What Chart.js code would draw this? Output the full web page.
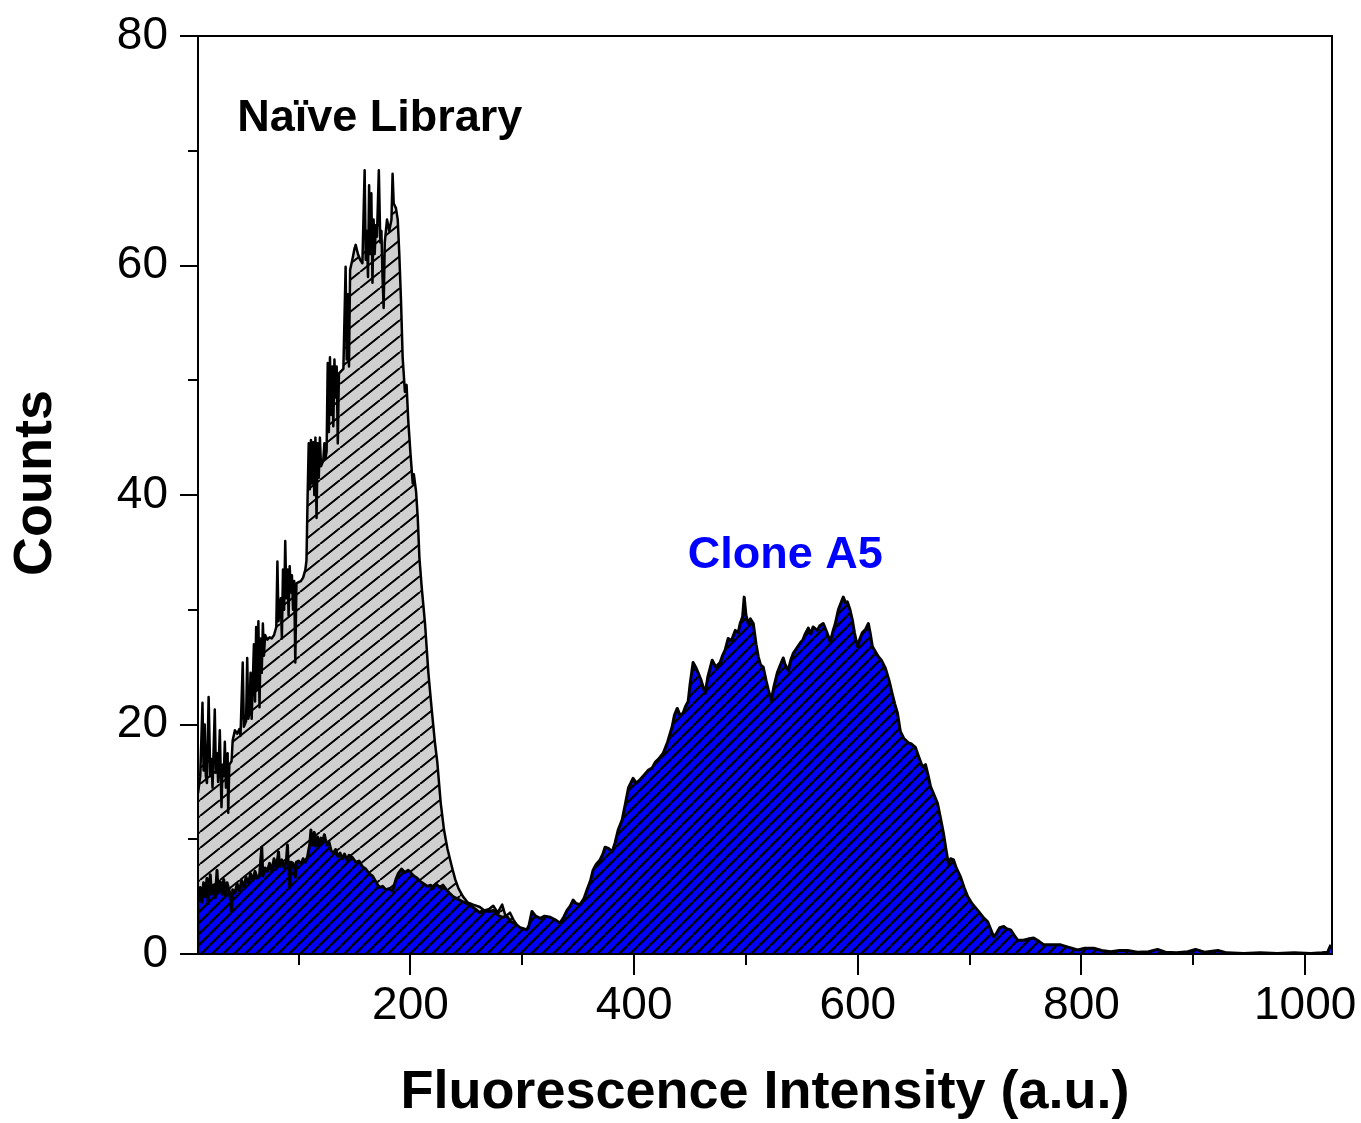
<!DOCTYPE html>
<html>
<head>
<meta charset="utf-8">
<title>Fluorescence histogram</title>
<script src="https://cdn.jsdelivr.net/npm/chart.js@4.4.1/dist/chart.umd.min.js"></script>
<style>
  html, body { margin: 0; padding: 0; background: #fff; }
  #hist { display: block; }
</style>
</head>
<body>
<canvas id="hist" width="1361" height="1123"></canvas>
<script>
// Naive library histogram (channel -> counts)
const naiveX = [
  10, 12, 14, 15, 16, 17, 18, 19.5, 21, 22,
  23, 25, 26, 27, 28, 29.5, 31, 32, 33, 34,
  35, 36.5, 37, 38, 40, 41, 43, 45, 47, 48,
  50, 51, 53, 54, 55, 56, 57, 58, 60, 61,
  62, 63, 64, 65, 66, 67, 68, 69, 70, 72,
  74, 76, 78, 80, 81, 82, 84, 85, 86, 87,
  88, 89, 90, 91, 92, 93, 94, 95, 96, 97,
  98, 100, 102, 104, 106, 107, 108, 109, 110, 111,
  112, 113, 114, 115, 116, 117, 118, 119, 120, 122,
  123, 124, 125, 126, 127, 128, 129, 130, 131, 132,
  133, 134, 135, 136, 138, 140, 142, 143, 144, 145,
  146, 148, 150, 151, 153, 155, 157, 159, 160, 161,
  162, 163, 164, 165, 166, 167, 168, 169, 170, 171.7,
  173, 174, 175, 176, 177, 179, 181, 183, 184, 185,
  187, 188.6, 190, 191.5, 193, 195, 196.5, 198, 200, 202,
  203, 205, 206.5, 208, 210, 213, 216, 219, 222, 224,
  227, 230, 233, 237, 240, 243, 247, 251, 256, 262,
  266, 270, 274, 278, 282, 285, 289, 292, 296, 300,
  310, 330, 360, 400
];
const naiveY = [
  14, 15.5, 21.9, 16, 20, 15.5, 14.9, 22.4, 15.5, 17,
  14.5, 21.3, 15.8, 17.5, 15, 19.5, 12.8, 16.5, 15.5, 18.5,
  14.5, 17.5, 12.3, 16.5, 16.8, 18.6, 19.5, 19.2, 19.6, 19,
  25.4, 19.8, 20.3, 25.8, 20.5, 21, 24.5, 20.5, 27, 22,
  28.5, 23, 29, 21.5, 27.5, 24.5, 28.8, 26, 27.8, 27.4,
  27.6, 27.5, 27.8, 28.5, 34.2, 29, 31, 27.5, 33.5, 30,
  36, 31, 33.5, 29.5, 33.8, 31.5, 33, 30, 32.5, 25.4,
  32.3, 32.4, 32.5, 32.8, 33.5, 34.3, 39.8, 44.5, 40.5, 44.8,
  41, 44.6, 40, 45, 38, 44.5, 41.5, 45, 42.5, 43,
  44.5, 43.2, 43.8, 51.5, 45.5, 52, 47, 51.2, 46, 51.8,
  48.5, 51.2, 44.5, 50.6, 50.8, 51, 59.9, 51.8, 57.5, 51.2,
  59.6, 60.5, 61.5, 61.8, 61, 60.5, 60.2, 68.3, 60.5, 63,
  59, 67, 61, 66.3, 58.5, 64, 61, 63.5, 62.5, 68.3,
  62, 63, 59, 56.3, 62, 64, 63, 64, 68, 65.4,
  65, 64, 61, 57, 52, 49, 49.6, 46.5, 43.6, 41,
  41.8, 40.3, 38, 34.5, 32, 28.8, 24.5, 21.3, 18.3, 16.7,
  13.2, 10.8, 9.2, 7.6, 6.5, 5.7, 5, 4.5, 4.3, 4.1,
  3.8, 3.9, 4.2, 3.6, 4.3, 3.3, 3.6, 3.0, 2.4, 2.0,
  1.6, 1.3, 1.0, 0.6
];

// Clone A5 histogram
const cloneX = [
  10, 12, 13.5, 15, 16.5, 18, 19, 21, 22, 24,
  25.5, 27, 28, 30, 31.5, 33, 34.5, 36, 38, 40,
  41, 43, 45, 47, 49, 51, 53, 55, 57, 59,
  61, 63, 65, 67, 68, 70, 72, 74, 76, 78,
  80, 82, 83, 85, 87, 89, 90, 91, 92, 93,
  95, 97, 98, 100, 102, 104, 106, 108, 110, 111,
  112, 114, 115, 117, 118, 120, 121, 123, 125, 127,
  129, 131, 133, 135, 137, 139, 141, 143, 145, 148,
  151, 154, 157, 160, 163, 166, 169, 172, 175, 178,
  181, 184, 187, 189, 192, 195, 198, 201, 203, 206,
  209, 212, 215, 218, 220, 223, 226, 229, 232, 235,
  238, 242, 246, 250, 254, 258, 262, 266, 270, 274,
  278, 282, 286, 290, 294, 298, 301, 304, 306, 308.6,
  312, 316, 320, 325, 329, 333.7, 337, 340, 343, 345.4,
  348, 351.6, 355, 357.9, 361, 363.3, 366, 369.5, 372, 374,
  377, 380.3, 383, 385.7, 389.3, 392, 395, 399, 402, 405.4,
  409, 412.5, 416, 418.8, 422, 426, 430, 434, 436, 438.5,
  441, 443.8, 446, 448.3, 450, 452.7, 455, 457.2, 460, 463.5,
  466, 469.8, 473, 476.9, 479, 481.4, 484.1, 487, 490.4, 493,
  494.8, 497, 498.4, 500, 502, 504, 506.5, 509, 511, 513,
  515.4, 518, 520, 522.6, 525, 528, 530, 533.3, 535, 537.8,
  540, 542.3, 545, 548.5, 551, 553, 555.7, 558, 560, 563.8,
  566, 569.1, 572, 575.4, 578, 579.9, 582.6, 585, 587, 589,
  590.6, 593, 595.1, 597, 599.6, 602, 604, 607, 609.4, 611,
  613, 616, 618.4, 621, 624.6, 628, 630.9, 633, 635.4, 638,
  641, 645.2, 648, 651.5, 654, 657.8, 660.5, 663, 665, 668,
  671.3, 674, 676.6, 679, 681.1, 683, 685.6, 688, 691.9, 695,
  698.2, 702, 707.2, 712, 716.1, 719, 721.5, 724, 727, 730.4,
  733, 736.6, 740, 742.9, 748, 752, 757.2, 762, 766.1, 772,
  781.4, 788, 796.6, 803, 810.9, 818, 826.1, 834, 841.3, 850,
  860, 868, 875, 885, 895, 902, 910, 922, 930, 945,
  960, 975, 990, 1005, 1015, 1020, 1023
];
const cloneY = [
  4.8, 5.8, 4.5, 6.2, 5, 6.6, 4.4, 6.9, 5.2, 6,
  4.9, 7.3, 5.4, 6.3, 5.2, 6.5, 5.1, 6.2, 5.5, 3.7,
  5.6, 5.3, 6.1, 5.5, 6.4, 5.8, 6.7, 6.1, 7, 6.4,
  7.2, 6.6, 6.8, 9.3, 6.8, 7.5, 7.2, 7.9, 7.2, 8.3,
  7.4, 8.9, 7.6, 8.2, 7.5, 8.1, 9.5, 7.2, 5.8, 8,
  7.9, 6.7, 8, 8.1, 7.8, 8.3, 8, 8.5, 9.6, 10.8,
  9.5, 10.6, 9.4, 10.2, 9.3, 10.1, 9.6, 10.4, 9.5, 9.8,
  9, 8.8, 9.1, 8.5, 8.8, 8.3, 8.7, 8.2, 8.6, 8.4,
  8, 8.1, 7.6, 7.4, 7, 6.8, 6.3, 5.8, 5.9, 5.6,
  5.7, 5.5, 6.5, 7, 7.4, 7.1, 7.3, 7, 6.8, 6.6,
  6.3, 6.1, 5.9, 6, 5.7, 6.1, 5.8, 6, 5.6, 5.3,
  5, 4.8, 4.6, 4.4, 4.2, 3.9, 3.6, 3.8, 3.7, 3.8,
  3.4, 3.2, 3.3, 2.8, 2.6, 2.3, 2.2, 2.1, 2.5, 3.7,
  3.3, 3.1, 3.3, 3.2, 3, 2.7, 3.2, 3.8, 4.2, 4.7,
  4.4, 4.3, 4.8, 5.6, 6.4, 7.3, 7.8, 8.2, 8.7, 9.3,
  9.2, 8.9, 9.7, 10.8, 11.7, 13, 14.5, 15.3, 14.9, 15.2,
  15.6, 16, 16.2, 16.7, 17, 17.5, 18.5, 19.8, 20.8, 21.4,
  20.8, 21, 21.6, 22, 23.5, 25.4, 25, 24.5, 23.8, 22.7,
  24.2, 25.6, 25, 25.4, 26, 26.5, 27.5, 27.3, 28.2, 28,
  28.8, 29.4, 31.1, 29.5, 28.8, 29.2, 28.8, 27, 25.9, 25.2,
  25, 23.8, 23, 22.1, 23.3, 24.5, 25, 25.8, 25.2, 24.7,
  25.6, 26.2, 26.6, 27.1, 27.4, 27.9, 28.4, 27.9, 28.5, 28.2,
  28.6, 28.8, 28.1, 27.2, 28.2, 28.8, 30, 30.6, 31.1, 30.6,
  30.7, 30, 29.1, 28, 26.8, 27.5, 28, 28.3, 28.8, 28,
  26.8, 26.3, 25.9, 25.6, 24.9, 23.8, 22.6, 21.8, 21, 19.4,
  18.8, 18.4, 18.3, 18, 17.3, 16.3, 16.5, 15.5, 14.6, 13.9,
  13.1, 11.8, 10.5, 9, 7.8, 8.3, 8.2, 7.5, 6.7, 5.8,
  5, 4.4, 3.8, 3.2, 2.8, 2.1, 1.5, 1.8, 2.3, 2.4,
  2.2, 2.1, 1.6, 1.2, 1.2, 1.3, 1.4, 1.1, 0.8, 0.8,
  0.8, 0.6, 0.35, 0.5, 0.5, 0.3, 0.2, 0.3, 0.3, 0.15,
  0.2, 0.4, 0.15, 0.1, 0.2, 0.4, 0.15, 0.3, 0.1, 0.05,
  0.1, 0.05, 0.1, 0.05, 0.1, 0.15, 0.8
];

const xTicks = [100, 200, 300, 400, 500, 600, 700, 800, 900, 1000];
const yTicks = [0, 10, 20, 30, 40, 50, 60, 70, 80];

const FONT = "'Liberation Sans', Arial, sans-serif";
Chart.defaults.font.family = FONT;
Chart.defaults.color = "#000";

const canvas = document.getElementById("hist");
const ctx = canvas.getContext("2d");

// diagonal "/" hatch on a coloured ground
function hatch(bg, w, h, lw) {
  let tile = document.createElement("canvas");
  tile.width = w;
  tile.height = h;
  let g = tile.getContext("2d");
  g.fillStyle = bg;
  g.fillRect(0, 0, w, h);
  g.strokeStyle = "#000";
  g.lineWidth = lw;
  g.beginPath();
  for (let k = -1; k <= 1; k++) {
    g.moveTo(k * w, h);
    g.lineTo(k * w + w, 0);
  }
  g.stroke();
  return ctx.createPattern(tile, "repeat");
}

const notes = [
  { text: "Naïve Library", x: 45, y: 71.7, color: "#000" },
  { text: "Clone A5", x: 448, y: 33.6, color: "#0000ff" }
];

// box, major/minor ticks, axis titles and the two labels
const decorations = {
  id: "decorations",
  afterDraw(chart) {
    const c = chart.ctx;
    const a = chart.chartArea;
    const sx = chart.scales.x, sy = chart.scales.y;
    c.save();
    c.strokeStyle = "#000";
    c.lineWidth = 2;
    c.strokeRect(a.left, a.top, a.right - a.left, a.bottom - a.top);
    c.beginPath();
    xTicks.forEach(v => {
      let px = Math.round(sx.getPixelForValue(v));
      c.moveTo(px, a.bottom);
      c.lineTo(px, a.bottom + (v % 200 ? 11 : 21));
    });
    yTicks.forEach(v => {
      let py = Math.round(sy.getPixelForValue(v));
      c.moveTo(a.left, py);
      c.lineTo(a.left - (v % 20 ? 10 : 18), py);
    });
    c.stroke();

    c.fillStyle = "#000";
    c.font = "bold 54px " + FONT;
    c.textAlign = "center";
    c.textBaseline = "middle";
    c.fillText("Fluorescence Intensity (a.u.)", (a.left + a.right) / 2, 1093);
    c.save();
    c.translate(36, 483);
    c.rotate(-Math.PI / 2);
    c.fillText("Counts", 0, 0);
    c.restore();

    c.font = "bold 45px " + FONT;
    c.textAlign = "left";
    c.textBaseline = "alphabetic";
    notes.forEach(n => {
      c.fillStyle = n.color;
      c.fillText(n.text, sx.getPixelForValue(n.x), sy.getPixelForValue(n.y));
    });
    c.restore();
  }
};

new Chart(canvas, {
  type: "line",
  data: {
    datasets: [
      {
        label: "Clone A5",
        data: cloneX.map((x, i) => ({ x: x, y: cloneY[i] })),
        order: 0,
        borderColor: "#000",
        borderWidth: 3,
        borderJoinStyle: "round",
        backgroundColor: hatch("#0000ff", 11, 11, 2.3),
        fill: "origin",
        pointRadius: 0,
        tension: 0
      },
      {
        label: "Naïve Library",
        data: naiveX.map((x, i) => ({ x: x, y: naiveY[i] })),
        order: 1,
        borderColor: "#000",
        borderWidth: 2.5,
        borderJoinStyle: "round",
        backgroundColor: hatch("#d0d0d0", 20, 16, 2),
        fill: "origin",
        pointRadius: 0,
        tension: 0
      }
    ]
  },
  options: {
    responsive: false,
    animation: false,
    events: [],
    layout: { padding: { left: 0, right: 29, top: 36, bottom: 0 } },
    plugins: {
      legend: { display: false },
      tooltip: { enabled: false }
    },
    scales: {
      x: {
        type: "linear",
        min: 10,
        max: 1024,
        border: { display: false },
        grid: { drawOnChartArea: false, drawTicks: true, tickLength: 20, tickColor: "rgba(0,0,0,0)" },
        afterBuildTicks: s => { s.ticks = xTicks.map(v => ({ value: v })); },
        afterFit: s => { s.height = 169; s.paddingLeft = 0; s.paddingRight = 0; },
        ticks: {
          autoSkip: false,
          maxRotation: 0,
          padding: 5,
          font: { size: 46 },
          color: "#000",
          callback: v => (v % 200 === 0 ? String(v) : "")
        }
      },
      y: {
        min: 0,
        max: 80,
        border: { display: false },
        grid: { drawOnChartArea: false, drawTicks: true, tickLength: 18, tickColor: "rgba(0,0,0,0)" },
        afterBuildTicks: s => { s.ticks = yTicks.map(v => ({ value: v })); },
        afterFit: s => { s.width = 198; s.paddingTop = 0; s.paddingBottom = 0; },
        ticks: {
          autoSkip: false,
          padding: 12,
          font: { size: 46 },
          color: "#000",
          callback: v => (v % 20 === 0 ? String(v) : "")
        }
      }
    }
  },
  plugins: [decorations]
});
</script>
</body>
</html>
